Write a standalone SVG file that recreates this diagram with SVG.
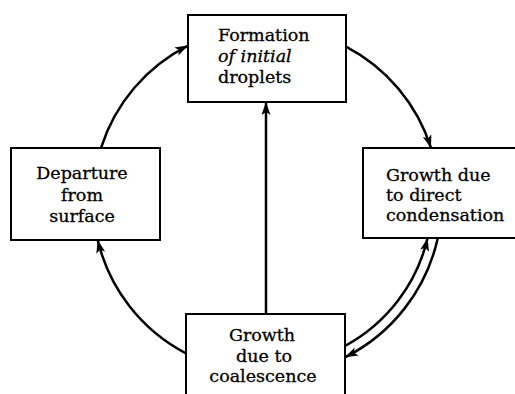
<svg xmlns="http://www.w3.org/2000/svg" width="515" height="394" viewBox="0 0 515 394">
<style>
.box{fill:#fff;stroke:#000;stroke-width:2}
.t{font-family:"DejaVu Serif","Liberation Serif",serif;font-size:17.5px;fill:#000;stroke:#000;stroke-width:0.3}
.c{text-anchor:middle}
.conn{fill:none;stroke:#000;stroke-width:2.5}
</style>
<defs>
<marker id="ah" markerUnits="userSpaceOnUse" markerWidth="14" markerHeight="10" refX="13" refY="4.5" orient="auto">
<path d="M0,0 L13,4.5 L0,9 L3,4.5 z" fill="#000"/>
</marker>
</defs>
<rect width="515" height="394" fill="#fff"/>
<g id="connectors">
<path class="conn" d="M101,148 A173,173 0 0 1 188,45.6" marker-end="url(#ah)"/>
<path class="conn" d="M346,46.6 A173,173 0 0 1 431,148" marker-end="url(#ah)"/>
<path class="conn" d="M345,346 A166,166 0 0 0 427.6,238" marker-end="url(#ah)"/>
<path class="conn" d="M437.8,238 A176,176 0 0 1 345,357.3" marker-end="url(#ah)"/>
<path class="conn" d="M186,353.4 A173,173 0 0 1 97.7,240" marker-end="url(#ah)"/>
<path class="conn" d="M266,314 L266,102" marker-end="url(#ah)"/>
</g>
<g id="node-formation">
<rect class="box" x="188" y="15" width="158" height="87"/>
<text class="t" x="218" y="41">Formation</text>
<text class="t" x="218" y="62" font-style="italic">of initial</text>
<text class="t" x="218" y="83">droplets</text>
</g>
<g id="node-departure">
<rect class="box" x="11" y="148" width="149" height="92"/>
<text class="t c" x="82" y="179">Departure</text>
<text class="t c" x="82" y="201">from</text>
<text class="t c" x="82" y="222">surface</text>
</g>
<g id="node-condensation">
<rect class="box" x="363" y="148" width="160" height="90"/>
<text class="t" x="386" y="181">Growth due</text>
<text class="t" x="386" y="201">to direct</text>
<text class="t" x="386" y="221">condensation</text>
</g>
<g id="node-coalescence">
<rect class="box" x="186" y="314" width="159" height="90"/>
<text class="t c" x="262" y="341">Growth</text>
<text class="t c" x="264" y="362">due to</text>
<text class="t c" x="263" y="382">coalescence</text>
</g>
</svg>
